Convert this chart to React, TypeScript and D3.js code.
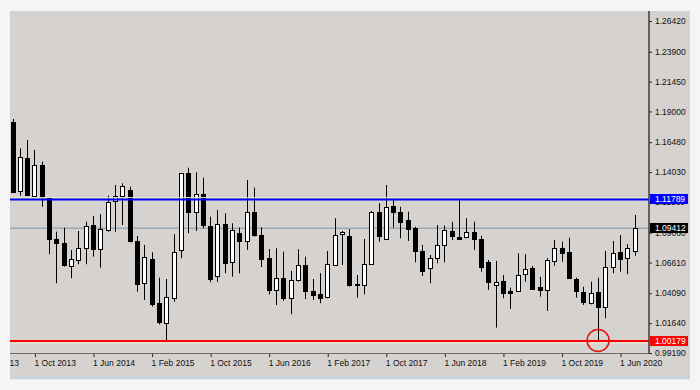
import React, { useEffect, useRef } from 'react';
import * as d3 from 'd3';

// monthly bars, first one is Jul 2013
const START_MONTH = '2013-07';

const opens = [
  1.1814, 1.1248, 1.1516, 1.1209, 1.1461, 1.1188, 1.0854, 1.0819, 1.0635, 1.0688,
  1.0783, 1.0969, 1.077, 1.0928, 1.1168, 1.1207, 1.1256, 1.0838, 1.0491, 1.0688,
  1.0327, 1.0171, 1.0376, 1.0764, 1.1393, 1.1073, 1.1221, 1.0963, 1.0553, 1.0975,
  1.0663, 1.0906, 1.0838, 1.1078, 1.0889, 1.0696, 1.0436, 1.0532, 1.0368, 1.0518,
  1.0641, 1.0428, 1.0403, 1.0373, 1.0641, 1.0893, 1.0879, 1.0482, 1.0477, 1.0647,
  1.1073, 1.086, 1.1125, 1.1073, 1.101, 1.0942, 1.0756, 1.0619, 1.0701, 1.0805,
  1.092, 1.0873, 1.0865, 1.0909, 1.0854, 1.0668, 1.0477, 1.051, 1.0428, 1.043,
  1.0567, 1.0619, 1.0463, 1.0436, 1.0674, 1.0783, 1.075, 1.0526, 1.0422, 1.0327,
  1.0422, 1.0299, 1.0627, 1.075, 1.0696, 1.0756,
];
const highs = [
  1.1838, 1.1598, 1.1666, 1.1584, 1.1488, 1.119, 1.0914, 1.0947, 1.0764, 1.092,
  1.0996, 1.1043, 1.1057, 1.1209, 1.1297, 1.1311, 1.1283, 1.0879, 1.0805, 1.0745,
  1.0537, 1.0526, 1.0893, 1.1395, 1.1439, 1.1401, 1.1357, 1.1037, 1.1092, 1.1065,
  1.0983, 1.0947, 1.1338, 1.1275, 1.095, 1.0772, 1.0778, 1.075, 1.0592, 1.077,
  1.0709, 1.0526, 1.0573, 1.0756, 1.1024, 1.092, 1.0936, 1.0559, 1.0854, 1.1084,
  1.1147, 1.1297, 1.118, 1.1119, 1.1078, 1.0955, 1.0805, 1.0723, 1.0969, 1.0963,
  1.0996, 1.118, 1.1024, 1.0996, 1.0881, 1.0682, 1.0674, 1.0559, 1.0455, 1.0737,
  1.0729, 1.0633, 1.0545, 1.0696, 1.0846, 1.0832, 1.0865, 1.0537, 1.0463, 1.0504,
  1.0537, 1.0756, 1.0838, 1.0887, 1.0811, 1.1051,
];
const lows = [
  1.1231, 1.1209, 1.1205, 1.1201, 1.1119, 1.0729, 1.0491, 1.0627, 1.0532, 1.0647,
  1.0647, 1.0709, 1.0619, 1.0914, 1.0914, 1.0969, 1.0827, 1.0422, 1.0354, 1.0299,
  1.0154, 1.0022, 1.034, 1.0696, 1.0901, 1.092, 1.0942, 1.0499, 1.0504, 1.0573,
  1.0545, 1.0573, 1.0764, 1.0873, 1.0624, 1.04, 1.0313, 1.0346, 1.0236, 1.0504,
  1.0362, 1.0354, 1.0327, 1.0368, 1.0635, 1.0641, 1.0463, 1.0373, 1.04, 1.0641,
  1.0832, 1.086, 1.0947, 1.086, 1.0838, 1.0663, 1.0551, 1.0491, 1.0655, 1.0663,
  1.0846, 1.0858, 1.086, 1.0764, 1.0586, 1.0436, 1.0127, 1.0368, 1.028, 1.0422,
  1.0504, 1.0436, 1.0381, 1.0264, 1.0635, 1.0668, 1.0532, 1.0373, 1.0313, 1.0318,
  1.0012, 1.0204, 1.0573, 1.0586, 1.0565, 1.0717,
];
const closes = [
  1.124, 1.1524, 1.1212, 1.1461, 1.1209, 1.0854, 1.0824, 1.0641, 1.069, 1.0783,
  1.0961, 1.077, 1.0936, 1.116, 1.1209, 1.1289, 1.0838, 1.0485, 1.0704, 1.0321,
  1.0171, 1.0381, 1.075, 1.1393, 1.1073, 1.1221, 1.0963, 1.0532, 1.0977, 1.0655,
  1.0928, 1.0838, 1.1078, 1.0887, 1.0694, 1.0436, 1.0537, 1.0368, 1.0518, 1.0641,
  1.0428, 1.0395, 1.0373, 1.0647, 1.0887, 1.0909, 1.0477, 1.0477, 1.0647, 1.1073,
  1.0873, 1.1119, 1.1073, 1.0991, 1.0936, 1.0756, 1.0594, 1.0701, 1.0805, 1.0928,
  1.0881, 1.086, 1.0909, 1.0852, 1.0622, 1.0504, 1.0504, 1.0414, 1.0414, 1.0559,
  1.0606, 1.045, 1.0436, 1.0682, 1.0778, 1.0745, 1.0537, 1.0428, 1.034, 1.0409,
  1.0299, 1.0627, 1.0742, 1.0696, 1.0778, 1.0941,
];

const priceTicks = [1.2642, 1.239, 1.2145, 1.19, 1.1648, 1.1403, 1.1158, 1.0906, 1.0661, 1.0409, 1.0164, 0.9919];
const dateTicks = ['2013-02', '2013-10', '2014-06', '2015-02', '2015-10', '2016-06', '2017-02', '2017-10', '2018-06', '2019-02', '2019-10', '2020-06'];

const resistance = 1.11789;
const lastPrice = 1.09412;
const support = 1.00179;
const markedMonth = '2020-03';

const FONT = '"Liberation Sans", Arial, sans-serif';

const App: React.FC = () => {
  const svgRef = useRef<SVGSVGElement>(null);

  useEffect(() => {
    if (!svgRef.current) return;
    const svg = d3.select(svgRef.current);
    svg.selectAll('*').remove();

    const W = 700;
    const H = 390;
    const panel = { left: 10, top: 11, right: 690, bottom: 377 };
    const plot = { left: 10, top: 11, right: 649, bottom: 353 };

    const parseMonth = d3.timeParse('%Y-%m');
    const start = parseMonth(START_MONTH) as Date;
    const monthIndex = (m: string) => d3.timeMonth.count(start, parseMonth(m) as Date);
    const fmtDate = d3.timeFormat('1 %b %Y');

    const bars = opens.map((o, i) => ({ i, o, h: highs[i], l: lows[i], c: closes[i] }));

    const x = d3.scaleLinear().domain([0, bars.length - 1]).range([12.5, 634.7]);
    const y = d3.scaleLinear().domain([0.9919, 1.2642]).range([plot.bottom, 21]);
    const px = (i: number) => Math.round(x(i)) + 0.5;

    // fond
    svg.append('rect').attr('width', W).attr('height', H).attr('fill', '#f5f5f5');
    svg
      .append('rect')
      .attr('x', panel.left)
      .attr('y', panel.top)
      .attr('width', panel.right - panel.left)
      .attr('height', panel.bottom - panel.top)
      .attr('fill', '#d6d2cf');
    svg
      .append('line')
      .attr('x1', panel.left)
      .attr('x2', panel.right)
      .attr('y1', 378)
      .attr('y2', 378)
      .attr('stroke', '#c3d5e4')
      .attr('stroke-width', 2.5);

    const defs = svg.append('defs');
    defs
      .append('clipPath')
      .attr('id', 'plot-clip')
      .append('rect')
      .attr('x', plot.left)
      .attr('y', plot.top)
      .attr('width', plot.right - plot.left)
      .attr('height', plot.bottom - plot.top);
    defs
      .append('clipPath')
      .attr('id', 'xaxis-clip')
      .append('rect')
      .attr('x', panel.left)
      .attr('y', plot.bottom)
      .attr('width', panel.right - panel.left)
      .attr('height', 30);

    const g = svg.append('g').attr('clip-path', 'url(#plot-clip)');

    // bid line under the candles
    g.append('line')
      .attr('x1', plot.left)
      .attr('x2', plot.right)
      .attr('y1', y(lastPrice))
      .attr('y2', y(lastPrice))
      .attr('stroke', '#9ea8b0')
      .attr('stroke-width', 1.5);

    // wicks
    g.selectAll('.wick')
      .data(bars)
      .enter()
      .append('line')
      .attr('x1', (d) => px(d.i))
      .attr('x2', (d) => px(d.i))
      .attr('y1', (d) => y(d.h))
      .attr('y2', (d) => y(d.l))
      .attr('stroke', '#000')
      .attr('stroke-width', 1);

    // bodies
    g.selectAll('.body')
      .data(bars)
      .enter()
      .append('rect')
      .attr('x', (d) => px(d.i) - 2)
      .attr('y', (d) => Math.round(y(Math.max(d.o, d.c))) + 0.5)
      .attr('width', 4)
      .attr('height', (d) => Math.max(1, Math.round(Math.abs(y(d.o) - y(d.c)))))
      .attr('fill', (d) => (d.c > d.o ? '#ffffff' : '#000000'))
      .attr('stroke', '#000')
      .attr('stroke-width', 1);

    // horizontal levels
    g.append('line')
      .attr('x1', plot.left)
      .attr('x2', plot.right)
      .attr('y1', y(resistance) - 1.8)
      .attr('y2', y(resistance) - 1.8)
      .attr('stroke', '#ece6c8')
      .attr('stroke-width', 1);
    g.append('line')
      .attr('x1', plot.left)
      .attr('x2', plot.right)
      .attr('y1', y(resistance))
      .attr('y2', y(resistance))
      .attr('stroke', '#0000ff')
      .attr('stroke-width', 2);
    g.append('line')
      .attr('x1', plot.left)
      .attr('x2', plot.right)
      .attr('y1', y(support) + 2)
      .attr('y2', y(support) + 2)
      .attr('stroke', '#ece6e0')
      .attr('stroke-width', 1);
    g.append('line')
      .attr('x1', plot.left)
      .attr('x2', plot.right)
      .attr('y1', y(support))
      .attr('y2', y(support))
      .attr('stroke', '#ff0000')
      .attr('stroke-width', 2);

    // circle on the low
    g.append('circle')
      .attr('cx', x(monthIndex(markedMonth)))
      .attr('cy', y(support) - 0.5)
      .attr('r', 11)
      .attr('fill', 'none')
      .attr('stroke', '#e01010')
      .attr('stroke-width', 1.5);

    // price axis
    const yAxis = svg
      .append('g')
      .attr('transform', `translate(${plot.right},0)`)
      .call(
        d3
          .axisRight(y)
          .tickValues(priceTicks)
          .tickSize(3)
          .tickPadding(3)
          .tickFormat((d) => d3.format('.5f')(d as number)),
      );
    yAxis.select('.domain').remove();
    yAxis.selectAll('line').attr('stroke', '#222');
    yAxis
      .selectAll('text')
      .attr('fill', '#111')
      .style('font-family', FONT)
      .style('font-size', '8.5px');

    // date axis
    const xAxis = svg
      .append('g')
      .attr('clip-path', 'url(#xaxis-clip)')
      .append('g')
      .attr('transform', `translate(0,${plot.bottom})`)
      .call(
        d3
          .axisBottom(x)
          .tickValues(dateTicks.map(monthIndex))
          .tickSize(4)
          .tickPadding(3)
          .tickFormat((d) => fmtDate(d3.timeMonth.offset(start, d as number))),
      );
    xAxis.select('.domain').remove();
    xAxis.selectAll('line').attr('stroke', '#222').attr('transform', 'translate(0.5,0)');
    xAxis
      .selectAll('text')
      .attr('text-anchor', 'start')
      .attr('x', -0.5)
      .attr('fill', '#111')
      .style('font-family', FONT)
      .style('font-size', '8.5px');

    // plot frame
    svg
      .append('line')
      .attr('x1', plot.left)
      .attr('x2', plot.right)
      .attr('y1', plot.bottom + 0.5)
      .attr('y2', plot.bottom + 0.5)
      .attr('stroke', '#6b6b6b');
    svg
      .append('line')
      .attr('x1', plot.right)
      .attr('x2', plot.right)
      .attr('y1', plot.top)
      .attr('y2', plot.bottom + 1)
      .attr('stroke', '#3a3a3a')
      .attr('stroke-width', 1.5);

    // price labels on the axis
    const tags = [
      { v: resistance, fill: '#0000ff' },
      { v: lastPrice, fill: '#000000' },
      { v: support, fill: '#ff0000' },
    ];
    tags.forEach((t) => {
      svg
        .append('rect')
        .attr('x', plot.right + 1)
        .attr('y', Math.round(y(t.v)) - 5)
        .attr('width', 38)
        .attr('height', 10)
        .attr('fill', t.fill);
      svg
        .append('text')
        .attr('x', plot.right + 6)
        .attr('y', y(t.v))
        .attr('dy', '0.34em')
        .attr('fill', '#fff')
        .style('font-family', FONT)
        .style('font-size', '8.5px')
        .text(d3.format('.5f')(t.v));
    });
  }, []);

  return (
    <svg
      ref={svgRef}
      width={700}
      height={390}
      style={{ position: 'absolute', left: 0, top: 0, display: 'block' }}
    />
  );
};

export default App;
